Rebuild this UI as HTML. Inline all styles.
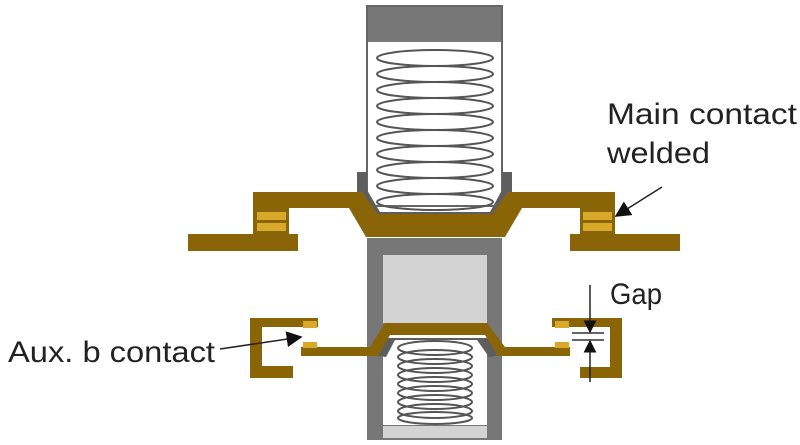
<!DOCTYPE html><html><head><style>body{margin:0;background:#fff}svg{display:block}text{font-family:"Liberation Sans",sans-serif;fill:#222}</style></head><body>
<svg width="800" height="445" viewBox="0 0 800 445">
<defs><marker id="a" viewBox="0 0 10 10" refX="9" refY="5" markerWidth="13" markerHeight="13" markerUnits="userSpaceOnUse" orient="auto"><path d="M0,0L10,5L0,10z" fill="#111"/></marker>
<marker id="b" viewBox="0 0 10 10" refX="9" refY="5" markerWidth="16" markerHeight="16" markerUnits="userSpaceOnUse" orient="auto"><path d="M0,0L10,5L0,10z" fill="#111"/></marker></defs>
<rect x="367" y="6" width="135" height="200" fill="#fff" stroke="#666" stroke-width="2"/>
<rect x="368" y="7" width="133" height="35" fill="#777"/>
<g fill="none" stroke="#555" stroke-width="2">
<ellipse cx="435" cy="58" rx="58" ry="8"/><ellipse cx="435" cy="74" rx="58" ry="8"/><ellipse cx="435" cy="90" rx="58" ry="8"/><ellipse cx="435" cy="106" rx="58" ry="8"/><ellipse cx="435" cy="122" rx="58" ry="8"/><ellipse cx="435" cy="138" rx="58" ry="8"/><ellipse cx="435" cy="154" rx="58" ry="8"/><ellipse cx="435" cy="170" rx="58" ry="8"/><ellipse cx="435" cy="186" rx="58" ry="8"/><ellipse cx="435" cy="202" rx="58" ry="8"/>
</g>
<rect x="367" y="238" width="135" height="202" fill="#777"/>
<rect x="383" y="255" width="104" height="68" fill="#d3d3d3"/>
<rect x="383" y="330" width="104" height="95" fill="#fff"/>
<rect x="383" y="426" width="104" height="12" fill="#d3d3d3"/>
<g fill="none" stroke="#555" stroke-width="2">
<ellipse cx="435" cy="348" rx="37" ry="7"/><ellipse cx="435" cy="357" rx="37" ry="7"/><ellipse cx="435" cy="366" rx="37" ry="7"/><ellipse cx="435" cy="375" rx="37" ry="7"/><ellipse cx="435" cy="384" rx="37" ry="7"/><ellipse cx="435" cy="393" rx="37" ry="7"/><ellipse cx="435" cy="402" rx="37" ry="7"/><ellipse cx="435" cy="411" rx="37" ry="7"/><ellipse cx="435" cy="418" rx="37" ry="6"/>
</g>
<path d="M357,172H367V190L380,212H490L502,190V172H512V193L495,222H375L357,193Z" fill="#5e5e5e"/>
<path d="M253,192H362L378,214H492L508,192H615V208H522L505,237H366L349,208H253Z" fill="#8a6508"/>
<rect x="253" y="208" width="36" height="26" fill="#8a6508"/>
<rect x="580" y="208" width="35" height="26" fill="#8a6508"/>
<rect x="257" y="212" width="29" height="8" fill="#d8a828"/><rect x="257" y="223" width="29" height="8" fill="#d8a828"/>
<rect x="583" y="212" width="29" height="8" fill="#d8a828"/><rect x="583" y="223" width="29" height="8" fill="#d8a828"/>
<rect x="188" y="234" width="110" height="17" fill="#8a6508"/>
<rect x="570" y="234" width="110" height="17" fill="#8a6508"/>
<path d="M383,338L372,355L386,357L395,340H477L489,357L502,355L491,338Z" fill="#5e5e5e"/>
<path d="M301,347H370L385,323H487L505,347H570V356H498L485,335H390L378,356H301Z" fill="#8a6508"/>
<path d="M250,318H318V327H262V366H293V378H250Z" fill="#8a6508"/>
<path d="M552,318H622V378H580V367H610V327H552Z" fill="#8a6508"/>
<rect x="303" y="321" width="14" height="7" fill="#d8a828"/><rect x="303" y="342" width="14" height="6" fill="#d8a828"/>
<rect x="555" y="321" width="14" height="7" fill="#d8a828"/><rect x="555" y="342" width="14" height="6" fill="#d8a828"/>
<line x1="572" y1="333" x2="604" y2="333" stroke="#333" stroke-width="1.5"/>
<line x1="572" y1="340" x2="604" y2="340" stroke="#333" stroke-width="1.5"/>
<line x1="590" y1="285" x2="590" y2="332" stroke="#222" stroke-width="1.5" marker-end="url(#a)"/>
<line x1="590" y1="382" x2="590" y2="341" stroke="#222" stroke-width="1.5" marker-end="url(#a)"/>
<line x1="662" y1="187" x2="616" y2="216" stroke="#222" stroke-width="1.5" marker-end="url(#b)"/>
<line x1="220" y1="349" x2="301" y2="337" stroke="#222" stroke-width="1.5" marker-end="url(#b)"/>
<text x="607" y="124" font-size="30" textLength="190" lengthAdjust="spacingAndGlyphs">Main contact</text>
<text x="607" y="163" font-size="30" textLength="103" lengthAdjust="spacingAndGlyphs">welded</text>
<text x="610" y="304" font-size="30" textLength="52" lengthAdjust="spacingAndGlyphs">Gap</text>
<text x="8" y="362" font-size="30" textLength="207" lengthAdjust="spacingAndGlyphs">Aux. b contact</text>
</svg></body></html>
